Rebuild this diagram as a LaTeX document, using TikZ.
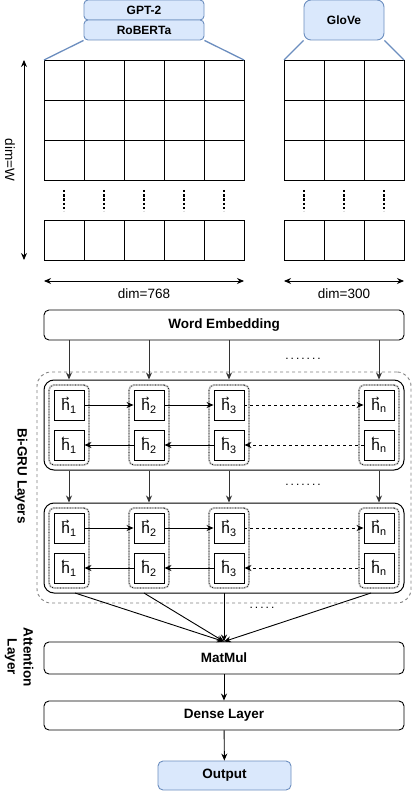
\documentclass[tikz,border=0pt]{standalone}
\usepackage{fontspec}
\setmainfont{Liberation Sans}
\newfontfamily\arrowfont{DejaVu Sans}
\usepackage{graphicx}
\usetikzlibrary{arrows.meta,positioning}

\definecolor{lblue}{HTML}{DAE8FC}
\definecolor{dblue}{HTML}{6C8EBF}

% forward / backward hidden states
\newcommand{\harr}[1]{\makebox[0pt][l]{\raisebox{0.6em}{\scalebox{0.62}[0.55]{\arrowfont#1}}}h}
\newcommand{\hf}[1]{\harr{→}\textsubscript{#1}}
\newcommand{\hb}[1]{\harr{←}\textsubscript{#1}}

\tikzset{
  lab/.style={font=\fontsize{13.5}{16}\selectfont},
  blab/.style={font=\bfseries\fontsize{13.5}{16}\selectfont},
  bluebox/.style={draw=dblue, fill=lblue, line width=0.9pt, rounded corners=4pt,
    font=\bfseries\fontsize{12}{14}\selectfont},
  layer/.style={draw, line width=0.9pt, rounded corners=5pt, minimum width=360pt,
    minimum height=30pt, blab},
  grubox/.style={draw, line width=1pt, rounded corners=10pt, minimum width=360pt,
    minimum height=90pt},
  dotbox/.style={draw=black, dotted, line width=0.7pt, rounded corners=5pt,
    minimum width=40pt, minimum height=80pt,
    preaction={draw=gray!45, solid, line width=1.8pt}},
  cell/.style={draw, fill=white, line width=0.9pt, minimum size=30pt, inner sep=0pt,
    font=\fontsize{15.5}{18}\selectfont},
  arr/.style={-{Stealth[length=7pt,width=6pt]}, line width=0.9pt},
  dimarr/.style={{Stealth[length=7pt,width=6pt]}-{Stealth[length=7pt,width=6pt]}, line width=0.9pt},
  vdots/.style={line width=2.6pt, dash pattern=on 2.4pt off 1.8pt},
  dots/.style={font=\fontsize{12}{14}\selectfont}
}

\begin{document}
\begin{tikzpicture}[x=1pt,y=-1pt]
  \useasboundingbox (0,0) rectangle (414,791);

  % pretrained embeddings
  \node[bluebox, minimum width=120pt, minimum height=20pt] (gpt) at (144,10) {GPT-2};
  \node[bluebox, minimum width=120pt, minimum height=20pt] (roberta) at (144,30) {RoBERTa};
  \node[bluebox, minimum width=80pt, minimum height=40pt, rounded corners=7pt] (glove) at (344,20) {GloVe};

  % embedding matrices
  \foreach \i in {0,...,4} {
    \foreach \j in {0,1,2}
      \draw[line width=0.9pt] (44+40*\i,60+40*\j) rectangle ++(40,40);
    \draw[line width=0.9pt] (44+40*\i,220) rectangle ++(40,40);
  }
  \foreach \i in {0,1,2} {
    \foreach \j in {0,1,2}
      \draw[line width=0.9pt] (284+40*\i,60+40*\j) rectangle ++(40,40);
    \draw[line width=0.9pt] (284+40*\i,220) rectangle ++(40,40);
  }
  \foreach \x in {64,104,144,184,224,304,344,384}
    \draw[vdots] (\x,190) -- (\x,211);

  \coordinate (ltl) at (44,60);
  \coordinate (ltr) at (244,60);
  \coordinate (rtl) at (284,60);
  \coordinate (rtr) at (404,60);
  \draw[dblue, line width=1.3pt] (roberta.south west) -- (ltl);
  \draw[dblue, line width=1.3pt] (roberta.south east) -- (ltr);
  \draw[dblue, line width=1.3pt] (glove.south west) -- (rtl);
  \draw[dblue, line width=1.3pt] (glove.south east) -- (rtr);

  % dimensions
  \coordinate (wtop) at (24,60);
  \coordinate (wbot) at (24,260);
  \draw[dimarr] (wtop) -- (wbot);
  \node[lab, rotate=-90] (dimw) at (10,160) {dim=W};
  \coordinate (la) at (44,281);
  \coordinate (lb) at (244,281);
  \coordinate (ra) at (284,281);
  \coordinate (rb) at (404,281);
  \draw[dimarr] (la) -- (lb);
  \draw[dimarr] (ra) -- (rb);
  \node[lab] (dimbert) at (144,294) {dim=768};
  \node[lab] (dimglove) at (344,294) {dim=300};

  \node[layer] (embed) at (224,325) {Word Embedding};

  % Bi-GRU layers
  \node[draw=gray, dashed, line width=0.9pt, rounded corners=14pt, minimum width=374pt,
    minimum height=231pt] (grus) at (224,487.5) {};
  \node[grubox] (gru1) at (224,425) {};
  \node[grubox] (gru2) at (224,548) {};
  \node[blab, rotate=-90] (grulab) at (21,476) {Bi-GRU Layers};

  \foreach \c/\x/\s in {1/69/1,2/149/2,3/229/3,4/379/n} {
    \foreach \l/\y in {1/405,2/528} {
      \node[dotbox] (d\l\c) at (\x,\y+20) {};
      \node[cell] (f\l\c) at (\x,\y) {\hf{\s}};
      \node[cell] (b\l\c) at (\x,\y+40) {\hb{\s}};
    }
  }
  \foreach \l in {1,2} {
    \draw[arr] (f\l1) -- (f\l2);
    \draw[arr] (f\l2) -- (f\l3);
    \draw[arr, dashed] (f\l3) -- (f\l4);
    \draw[arr] (b\l2) -- (b\l1);
    \draw[arr] (b\l3) -- (b\l2);
    \draw[arr, dashed] (b\l4) -- (b\l3);
  }
  \foreach \c in {1,...,4} {
    \draw[arr, black!80] (embed.south -| f1\c) -- (gru1.north -| f1\c);
    \draw[arr, black!80] (gru1.south -| f1\c) -- (gru2.north -| f1\c);
  }
  \node[dots] (dotsa) at (303,359) {.\,.\,.\,.\,.\,.\,.};
  \node[dots] (dotsb) at (303,485) {.\,.\,.\,.\,.\,.\,.};

  % attention
  \node[layer, minimum height=32pt] (matmul) at (224,658) {MatMul};
  \node[blab, rotate=-90, align=center] (attlab) at (19,657) {Attention\\Layer};
  \coordinate (o1) at (75,593);
  \coordinate (o2) at (144,593);
  \coordinate (o3) at (224,593);
  \coordinate (o4) at (371,593);
  \foreach \c in {1,...,4}
    \draw[arr] (o\c) -- (matmul.north);
  \node[dots] (dotsc) at (262,608) {.\,.\,.\,.\,.};

  \node[layer, minimum height=29pt] (dense) at (224,715.5) {Dense Layer};
  \node[bluebox, minimum width=133pt, minimum height=29pt, rounded corners=5pt, blab] (out) at (224.5,775.5) {Output};
  \draw[arr] (matmul) -- (dense);
  \draw[arr] (dense) -- (out);
\end{tikzpicture}
\end{document}
